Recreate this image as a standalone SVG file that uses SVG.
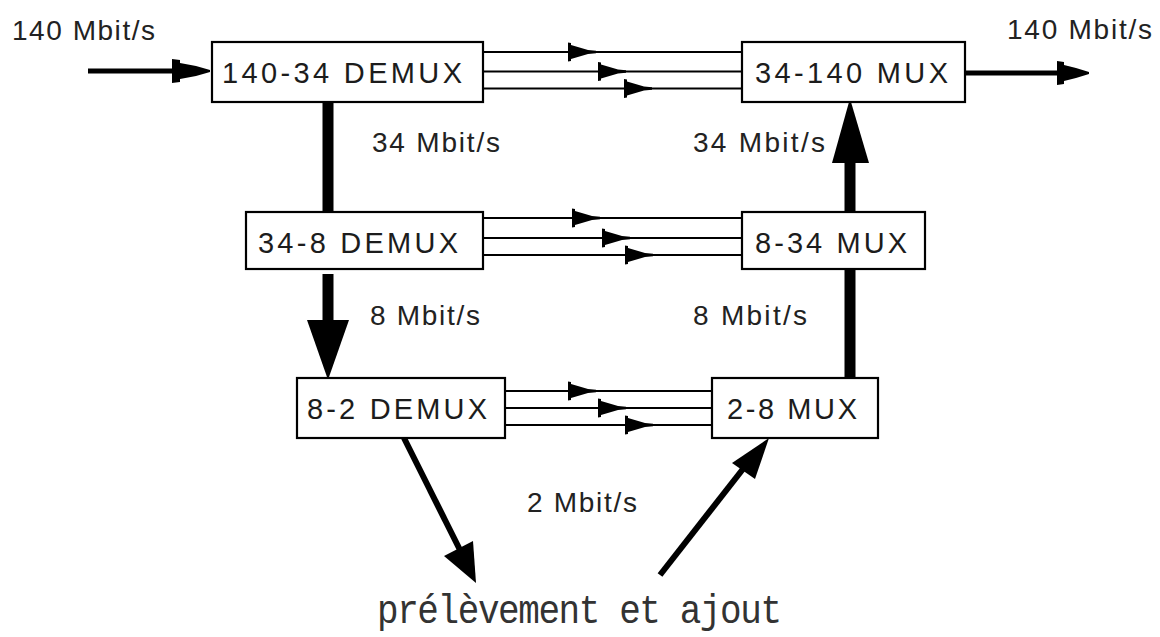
<svg xmlns="http://www.w3.org/2000/svg" xmlns:xlink="http://www.w3.org/1999/xlink" width="1160" height="637" viewBox="0 0 1160 637">
<style>
.box{fill:#fff;stroke:#000;stroke-width:2.2}
.lbl{font-family:"Liberation Sans",Arial,sans-serif;font-size:29px;fill:#1c1c1c}
.rate{font-family:"Liberation Sans",Arial,sans-serif;font-size:28px;fill:#222}
.thin{stroke:#000;stroke-width:2.2;fill:none}
.thick{stroke:#000;fill:none}
.head{fill:#000}
.note{font-family:"Liberation Mono","Courier New",monospace;font-size:36px;fill:#333}
</style>
<defs>
<path id="sh" d="M0,-9.5 L3,-9 L3,-7 L20,-2 L28,-1.3 L28,1.3 L20,2 L3,7 L3,9 L0,9.5 Z"/>
</defs>
<rect width="1160" height="637" fill="#fff"/>

<g id="connectors">
  <!-- input / output -->
  <line class="thick" x1="88" y1="71" x2="176" y2="71" stroke-width="5"/>
  <polygon class="head" points="172,59 180,60 180,63 196,66 210,70 210,72 196,76 180,79 180,82 172,83"/>
  <line class="thick" x1="965" y1="73" x2="1060" y2="73" stroke-width="5"/>
  <polygon class="head" points="1057,61 1064,62 1064,65 1076,68 1089,72 1089,74 1076,78 1064,81 1064,84 1057,85"/>

  <!-- top parallel lines -->
  <line class="thin" x1="483" y1="52" x2="741" y2="52"/>
  <line class="thin" x1="483" y1="71.5" x2="741" y2="71.5"/>
  <line class="thin" x1="483" y1="88.5" x2="741" y2="88.5"/>
  <use xlink:href="#sh" x="568" y="52"/>
  <use xlink:href="#sh" x="598" y="71.5"/>
  <use xlink:href="#sh" x="624" y="88.5"/>

  <!-- middle parallel lines -->
  <line class="thin" x1="483" y1="218" x2="742" y2="218"/>
  <line class="thin" x1="483" y1="238" x2="742" y2="238"/>
  <line class="thin" x1="483" y1="255" x2="742" y2="255"/>
  <use xlink:href="#sh" x="572" y="218"/>
  <use xlink:href="#sh" x="602" y="238"/>
  <use xlink:href="#sh" x="625" y="255"/>

  <!-- bottom parallel lines -->
  <line class="thin" x1="505" y1="391" x2="712" y2="391"/>
  <line class="thin" x1="505" y1="408" x2="712" y2="408"/>
  <line class="thin" x1="505" y1="425" x2="712" y2="425"/>
  <use xlink:href="#sh" x="568" y="391"/>
  <use xlink:href="#sh" x="598" y="408"/>
  <use xlink:href="#sh" x="625" y="425"/>

  <!-- left vertical -->
  <line class="thick" x1="328" y1="102" x2="328" y2="212" stroke-width="11"/>
  <line class="thick" x1="328" y1="274" x2="328" y2="324" stroke-width="11"/>
  <polygon class="head" points="307,320 349,320 329,377 327,377"/>

  <!-- right vertical -->
  <line class="thick" x1="850" y1="158" x2="850" y2="212" stroke-width="11"/>
  <line class="thick" x1="850" y1="269" x2="850" y2="380" stroke-width="11"/>
  <polygon class="head" points="832,163 869,163 851,102 849,102"/>

  <!-- diagonals -->
  <line class="thick" x1="404" y1="438" x2="466" y2="562" stroke-width="6"/>
  <polygon class="head" points="444,556 473,541 476,583"/>
  <line class="thick" x1="660" y1="575" x2="750" y2="460" stroke-width="6"/>
  <polygon class="head" points="732,463 755,479 769,438"/>
</g>

<g id="demux140">
  <rect class="box" x="212" y="42" width="271" height="60"/>
  <text class="lbl" x="222" y="83" textLength="240" lengthAdjust="spacing">140-34 DEMUX</text>
</g>
<g id="mux140">
  <rect class="box" x="742" y="42" width="223" height="60"/>
  <text class="lbl" x="755" y="83" textLength="193" lengthAdjust="spacing">34-140 MUX</text>
</g>
<g id="demux34">
  <rect class="box" x="246" y="212" width="237" height="57"/>
  <text class="lbl" x="258" y="253" textLength="200" lengthAdjust="spacing">34-8 DEMUX</text>
</g>
<g id="mux34">
  <rect class="box" x="742" y="212" width="183" height="57"/>
  <text class="lbl" x="755" y="253" textLength="152" lengthAdjust="spacing">8-34 MUX</text>
</g>
<g id="demux8">
  <rect class="box" x="297" y="378" width="208" height="60"/>
  <text class="lbl" x="307" y="419" textLength="180" lengthAdjust="spacing">8-2 DEMUX</text>
</g>
<g id="mux8">
  <rect class="box" x="712" y="378" width="166" height="60"/>
  <text class="lbl" x="727" y="419" textLength="130" lengthAdjust="spacing">2-8 MUX</text>
</g>

<g id="labels">
  <text class="rate" x="12" y="40" textLength="143" lengthAdjust="spacing">140 Mbit/s</text>
  <text class="rate" x="1007" y="39" textLength="145" lengthAdjust="spacing">140 Mbit/s</text>
  <text class="rate" x="372" y="152" textLength="128" lengthAdjust="spacing">34 Mbit/s</text>
  <text class="rate" x="693" y="152" textLength="132" lengthAdjust="spacing">34 Mbit/s</text>
  <text class="rate" x="370" y="325" textLength="110" lengthAdjust="spacing">8 Mbit/s</text>
  <text class="rate" x="693" y="325" textLength="114" lengthAdjust="spacing">8 Mbit/s</text>
  <text class="rate" x="527" y="512" textLength="110" lengthAdjust="spacing">2 Mbit/s</text>
  <text class="note" transform="translate(377,623) scale(1,1.12)" x="0" y="0" textLength="405" lengthAdjust="spacing">prélèvement et ajout</text>
</g>
</svg>
